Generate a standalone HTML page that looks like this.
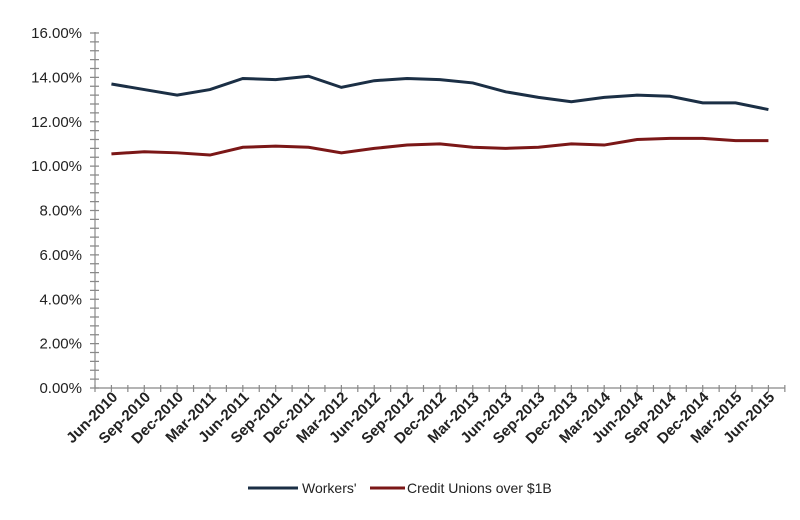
<!DOCTYPE html><html><head><style>body{margin:0;background:#fff}svg{display:block;font-family:"Liberation Sans",sans-serif}</style></head><body>
<svg width="800" height="520" viewBox="0 0 800 520">
<line x1="95" y1="32" x2="95" y2="388" stroke="#888" stroke-width="1.2"/>
<line x1="95" y1="388" x2="785" y2="388" stroke="#888" stroke-width="1.2"/>
<line x1="94.5" y1="388.6" x2="94.5" y2="31" stroke="#888" stroke-width="9" stroke-dasharray="1.2 7.675"/>
<line x1="94.4" y1="388.5" x2="786" y2="388.5" stroke="#888" stroke-width="7" stroke-dasharray="1.2 15.225"/>
<g font-size="15" fill="#222" text-anchor="end">
<text x="82" y="393">0.00%</text><text x="82" y="348.6">2.00%</text><text x="82" y="304.3">4.00%</text><text x="82" y="259.9">6.00%</text><text x="82" y="215.5">8.00%</text><text x="82" y="171.1">10.00%</text><text x="82" y="126.8">12.00%</text><text x="82" y="82.4">14.00%</text><text x="82" y="38">16.00%</text>
</g>
<g font-size="15" font-weight="bold" fill="#222" text-anchor="end">
<text transform="translate(118.4,398) rotate(-45)">Jun-2010</text>
<text transform="translate(151.3,398) rotate(-45)">Sep-2010</text>
<text transform="translate(184.1,398) rotate(-45)">Dec-2010</text>
<text transform="translate(217,398) rotate(-45)">Mar-2011</text>
<text transform="translate(249.8,398) rotate(-45)">Jun-2011</text>
<text transform="translate(282.7,398) rotate(-45)">Sep-2011</text>
<text transform="translate(315.5,398) rotate(-45)">Dec-2011</text>
<text transform="translate(348.4,398) rotate(-45)">Mar-2012</text>
<text transform="translate(381.2,398) rotate(-45)">Jun-2012</text>
<text transform="translate(414.1,398) rotate(-45)">Sep-2012</text>
<text transform="translate(446.9,398) rotate(-45)">Dec-2012</text>
<text transform="translate(479.8,398) rotate(-45)">Mar-2013</text>
<text transform="translate(512.6,398) rotate(-45)">Jun-2013</text>
<text transform="translate(545.5,398) rotate(-45)">Sep-2013</text>
<text transform="translate(578.3,398) rotate(-45)">Dec-2013</text>
<text transform="translate(611.2,398) rotate(-45)">Mar-2014</text>
<text transform="translate(644,398) rotate(-45)">Jun-2014</text>
<text transform="translate(676.9,398) rotate(-45)">Sep-2014</text>
<text transform="translate(709.7,398) rotate(-45)">Dec-2014</text>
<text transform="translate(742.6,398) rotate(-45)">Mar-2015</text>
<text transform="translate(775.4,398) rotate(-45)">Jun-2015</text>
</g>
<polyline id="w" fill="none" stroke="#1b2f45" stroke-width="3"/>
<polyline id="c" fill="none" stroke="#7b1717" stroke-width="3"/>
<line x1="248" y1="488" x2="298" y2="488" stroke="#1b2f45" stroke-width="3"/>
<text x="302" y="493" font-size="14" fill="#222">Workers'</text>
<line x1="370" y1="488" x2="405" y2="488" stroke="#7b1717" stroke-width="3"/>
<text x="407" y="493" font-size="14" fill="#222">Credit Unions over $1B</text>
<script>
var x0=95,y0=388,sp=32.85,ph=355/16;
var W=[13.7,13.45,13.2,13.45,13.95,13.9,14.05,13.55,13.85,13.95,13.9,13.75,13.35,13.1,12.9,13.1,13.2,13.15,12.85,12.85,12.55];
var C=[10.55,10.65,10.6,10.5,10.85,10.9,10.85,10.6,10.8,10.95,11.0,10.85,10.8,10.85,11.0,10.95,11.2,11.25,11.25,11.15,11.15];
function p(a){return a.map(function(v,i){return (x0+sp/2+i*sp)+','+(y0-v*ph)}).join(' ')}
document.getElementById('w').setAttribute('points',p(W));document.getElementById('c').setAttribute('points',p(C));
</script>
</svg></body></html>
